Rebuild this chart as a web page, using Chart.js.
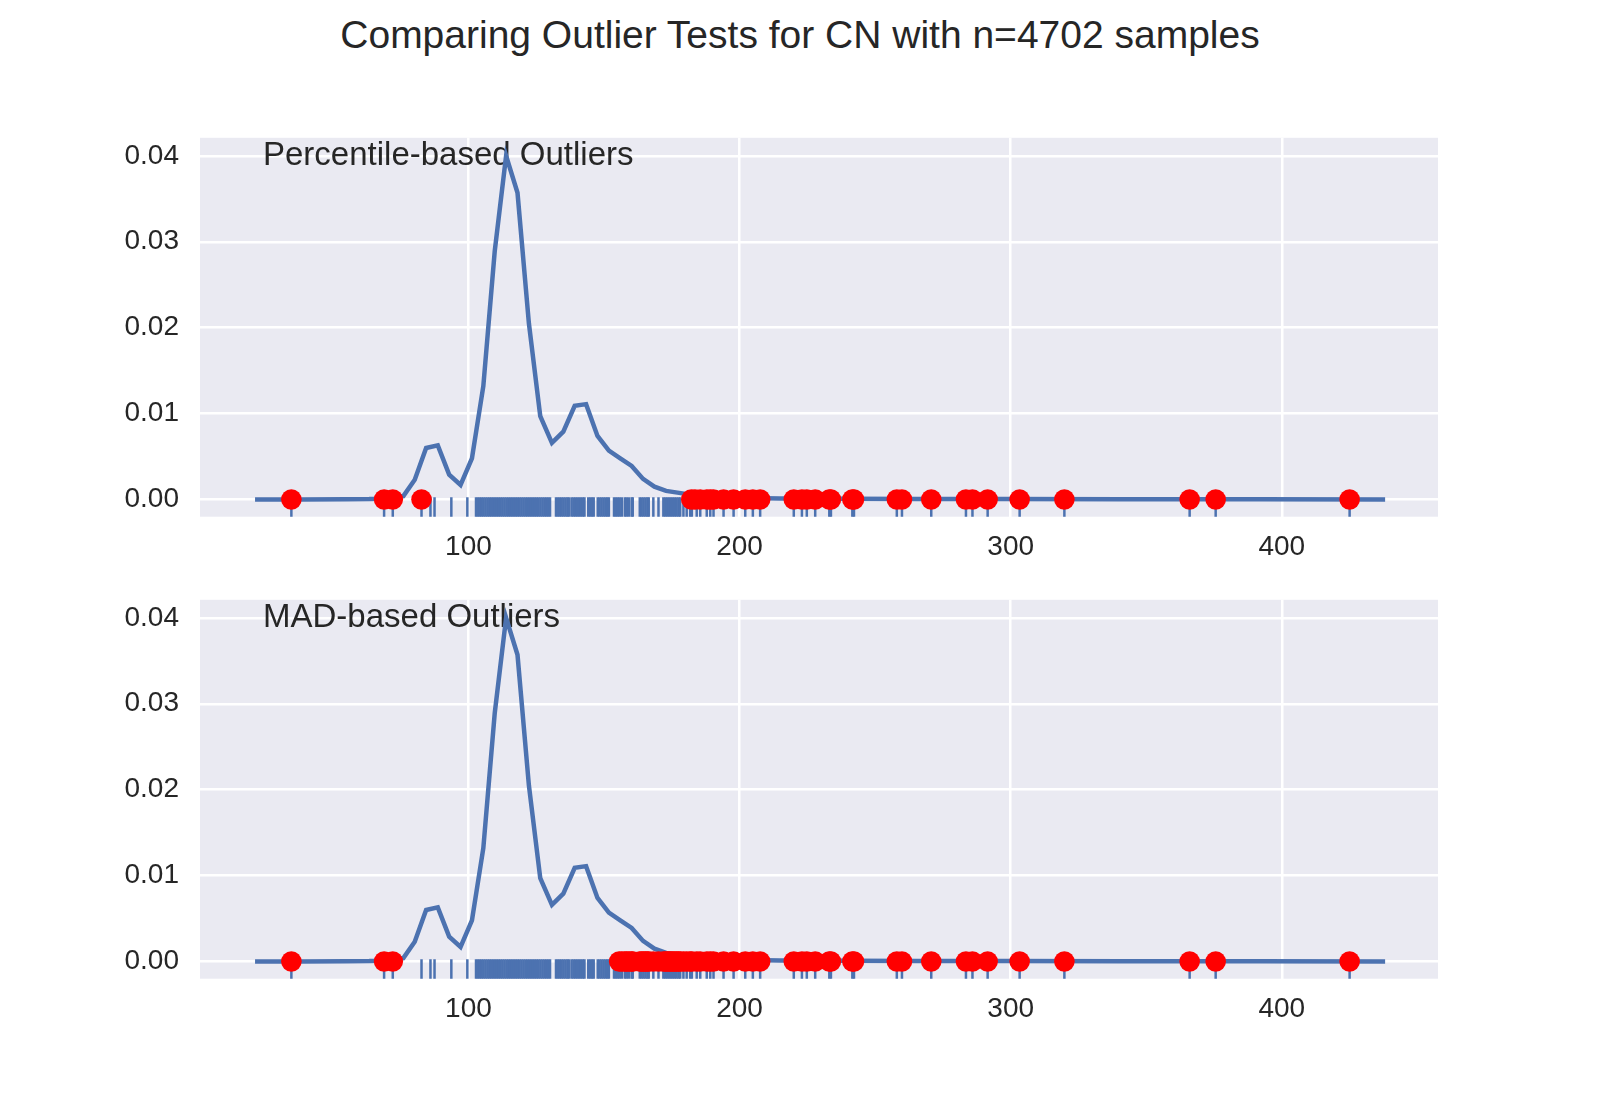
<!DOCTYPE html>
<html>
<head>
<meta charset="utf-8">
<script src="https://cdn.jsdelivr.net/npm/chart.js@4.4.1/dist/chart.umd.min.js"></script>
<style>
  body { margin: 0; width: 1600px; height: 1100px; background: #fff; position: relative; overflow: hidden;
         font-family: Arial, "Liberation Sans", sans-serif; }
  #title { position: absolute; left: 0; top: 13px; width: 1600px; text-align: center;
           font-size: 39px; line-height: 44px; color: #262626; }
  .panel { position: absolute; left: 0; width: 1600px; height: 470px; }
</style>
</head>
<body>
<div id="title">Comparing Outlier Tests for CN with n=4702 samples</div>
<div class="panel" style="top:100px"><canvas id="pctChart"></canvas></div>
<div class="panel" style="top:562px"><canvas id="madChart"></canvas></div>

<script>
// densidad (KDE)
const kdeX = [21.3, 38.1, 55.0, 63.4, 67.6, 71.8, 76.0, 80.2, 84.4, 88.7, 92.9, 97.1, 101.3, 105.5,
  109.7, 113.9, 118.1, 122.3, 126.5, 130.8, 135.0, 139.2, 143.4, 147.6, 151.8, 156.0, 160.2, 164.4,
  168.6, 172.9, 177.1, 181.3, 185.5, 189.7, 198.1, 214.9, 240.2, 265.4, 299.1, 341.2, 391.7, 438.1];
const kdeY = [0, 0, 0.00002, 0.00005, 0.0001, 0.0002, 0.0004, 0.0023, 0.0060, 0.0063, 0.0029, 0.0017,
  0.0048, 0.0132, 0.0289, 0.0400, 0.0357, 0.0205, 0.0097, 0.0066, 0.0079, 0.0109, 0.0111, 0.0074,
  0.0057, 0.0048, 0.0039, 0.0024, 0.0015, 0.0010, 0.0008, 0.0006, 0.0004, 0.0003, 0.0002, 0.00012,
  0.0001, 0.00006, 0.00005, 0.00003, 0.00002, 0];

// rug de las muestras (zona densa leída como bloques)
const rugValues = [34.7, 68.9, 72.1, 82.7, 86.0, 87.5, 93.7, 99.6,
  102.8, 103.5, 104.2, 104.9, 105.6, 106.3, 107.0, 107.7, 108.4, 109.1, 109.8, 110.5, 111.2, 111.9,
  112.6, 113.3, 114.0, 114.7, 115.4, 116.1, 116.8, 117.5, 118.2, 118.9, 119.6, 120.3, 121.0, 121.7,
  122.4, 123.1, 123.8, 124.5, 125.2, 125.9, 126.6, 127.3, 128.0, 128.7, 129.4, 130.1,
  132.3, 133.0, 133.7, 134.4, 135.1, 135.8, 136.5, 137.0,
  138.0, 138.7, 139.4, 140.1, 140.8, 141.5, 142.2, 142.8,
  144.2, 144.9, 145.6, 146.2,
  147.7, 148.4, 149.1, 149.8, 150.5, 151.2, 151.8,
  153.7, 154.4, 155.1, 155.8, 156.6,
  157.7, 158.4, 159.2, 160.2, 160.6,
  163.2, 163.9, 164.6, 165.3, 166.0, 166.5, 168.2, 170.1,
  171.9, 172.6, 173.3, 174.0, 174.7, 175.4, 176.1, 176.8, 177.5, 178.1,
  179.3, 180.5, 181.8, 182.4, 184.2, 185.5, 187.9, 189.2, 190.4, 194.1, 197.8, 202.1, 204.9, 207.6,
  220.0, 223.0, 224.8, 227.9, 233.1, 233.7, 241.6, 242.2, 258.0, 259.9, 270.7, 283.5, 285.9, 291.5,
  303.3, 319.8, 366.0, 375.6, 425.0];

// outliers según cada prueba
const pctOutliers = [34.7, 68.9, 72.1, 82.7,
  182.2, 183.6, 185.5, 187.9, 189.2, 190.4, 194.1, 197.8, 202.1, 204.9, 207.6,
  220.0, 223.0, 224.8, 227.9, 233.1, 233.7, 241.6, 242.2, 258.0, 259.9, 270.7, 283.5, 285.9, 291.5,
  303.3, 319.8, 366.0, 375.6, 425.0];
const madOutliers = [34.7, 68.9, 72.1,
  155.6, 156.6, 157.7, 158.4, 159.2, 160.2, 160.6, 163.2, 163.9, 164.6, 165.3, 166.0, 166.5, 168.2,
  170.1, 171.9, 172.6, 173.3, 174.0, 174.7, 175.4, 176.1, 176.8, 177.5, 178.1, 179.3, 180.5, 181.8,
  182.4, 184.2, 185.5, 187.9, 189.2, 190.4, 194.1, 197.8, 202.1, 204.9, 207.6,
  220.0, 223.0, 224.8, 227.9, 233.1, 233.7, 241.6, 242.2, 258.0, 259.9, 270.7, 283.5, 285.9, 291.5,
  303.3, 319.8, 366.0, 375.6, 425.0];

const xTicks = [100, 200, 300, 400];
const yTicks = [0, 0.01, 0.02, 0.03, 0.04];
const xLimits = [1.0, 457.6];
const yLimits = [-0.002, 0.0421];

const FONT = 'Arial, "Liberation Sans", sans-serif';
const TEXT = '#262626';
const BLUE = '#4C72B0';

// fondo gris estilo seaborn
const panelBg = {
  id: 'panelBg',
  beforeDraw(chart) {
    const { ctx, chartArea: a } = chart;
    ctx.save();
    ctx.fillStyle = '#EAEAF2';
    ctx.fillRect(a.left, a.top, a.right - a.left, a.bottom - a.top);
    ctx.restore();
  }
};

// etiqueta dentro de cada panel
const panelLabel = {
  id: 'panelLabel',
  beforeDatasetsDraw(chart, args, opts) {
    const { ctx, chartArea: a } = chart;
    ctx.save();
    ctx.font = '33px ' + FONT;
    ctx.fillStyle = TEXT;
    ctx.textBaseline = 'alphabetic';
    ctx.fillText(opts.text, a.left + 63, a.top + 27);
    ctx.restore();
  }
};

function makeChart(canvasId, label, outliers) {
  const rugY = yLimits[0] + 0.025 * (yLimits[1] - yLimits[0]);
  return new Chart(document.getElementById(canvasId), {
    type: 'scatter',
    data: {
      datasets: [
        {
          label: 'outliers',
          data: outliers.map(v => ({ x: v, y: 0 })),
          backgroundColor: '#FF0000',
          borderWidth: 0,
          pointRadius: 10.3,
          order: 0
        },
        {
          label: 'kde',
          data: kdeX.map((x, i) => ({ x, y: kdeY[i] })),
          showLine: true,
          borderColor: BLUE,
          borderWidth: 4.5,
          pointRadius: 0,
          tension: 0,
          order: 1
        },
        {
          label: 'rug',
          data: rugValues.map(v => ({ x: v, y: rugY })),
          pointStyle: 'line',
          rotation: 90,
          pointRadius: 10,
          borderColor: BLUE,
          borderWidth: 2.5,
          order: 2
        }
      ]
    },
    options: {
      responsive: true,
      maintainAspectRatio: false,
      animation: false,
      layout: { padding: { top: 32, right: 162, left: 0, bottom: 0 } },
      plugins: {
        legend: { display: false },
        tooltip: { enabled: false },
        panelLabel: { text: label }
      },
      scales: {
        x: {
          type: 'linear',
          min: xLimits[0],
          max: xLimits[1],
          afterBuildTicks: (s) => { s.ticks = xTicks.map(v => ({ value: v })); },
          afterFit: (s) => { s.height = 53.3; },
          grid: { color: '#FFFFFF', lineWidth: 2.5, drawTicks: false },
          border: { display: false },
          ticks: { color: TEXT, font: { family: FONT, size: 28 }, padding: 14,
                   callback: (v) => String(v) }
        },
        y: {
          type: 'linear',
          min: yLimits[0],
          max: yLimits[1],
          afterBuildTicks: (s) => { s.ticks = yTicks.map(v => ({ value: v })); },
          afterFit: (s) => { s.width = 200; },
          grid: { color: '#FFFFFF', lineWidth: 2.5, drawTicks: false },
          border: { display: false },
          ticks: { color: TEXT, font: { family: FONT, size: 28 }, padding: 21,
                   callback: (v) => v.toFixed(2) }
        }
      }
    },
    plugins: [panelBg, panelLabel]
  });
}

makeChart('pctChart', 'Percentile-based Outliers', pctOutliers);
makeChart('madChart', 'MAD-based Outliers', madOutliers);
</script>
</body>
</html>
